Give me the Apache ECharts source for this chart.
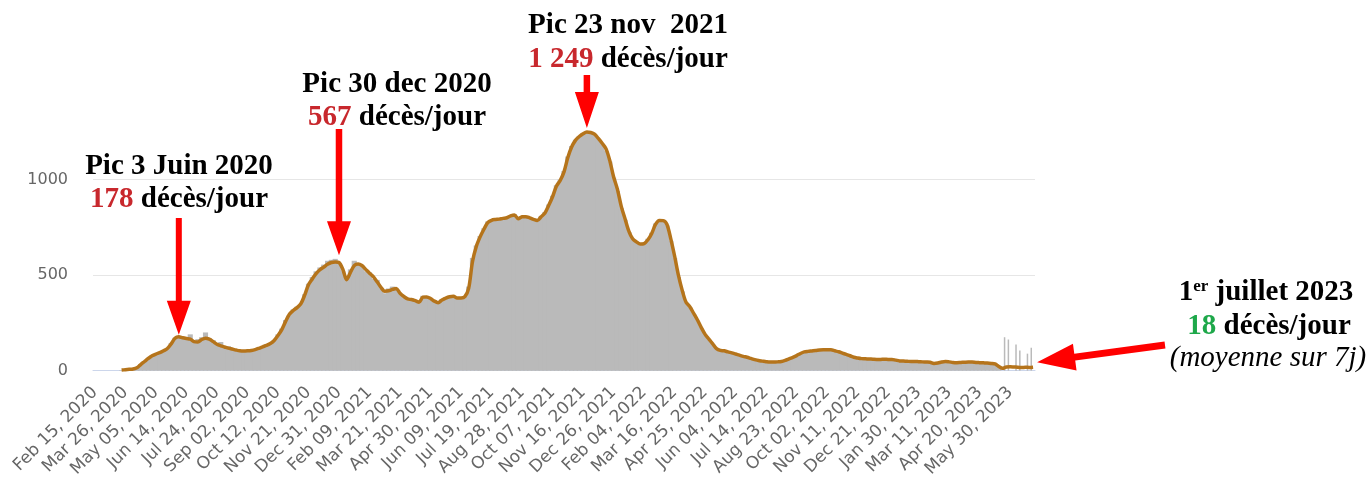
<!DOCTYPE html>
<html><head><meta charset="utf-8">
<script src="https://cdn.jsdelivr.net/npm/echarts@6/dist/echarts.min.js"></script>
<style>html,body{margin:0;padding:0;background:#fff}#c{width:1370px;height:480px}</style>
</head><body><div id="c"></div>
<script>
// ---- data (one value every 5 days from Feb 15, 2020) ----
const startDate = [2020, 1, 15];
const stepDays = 5;
const monthNames = ['Jan','Feb','Mar','Apr','May','Jun','Jul','Aug','Sep','Oct','Nov','Dec'];

// 7-day average (line)
const avg7 = [
 null,null,null,null,null,null,null,3,5,7,
 9,15,32,48,64,78,87,94,104,116,
 140,170,178,172,168,165,152,150,163,170,
 165,152,138,130,124,118,113,108,104,103,
 104,106,110,117,125,132,142,158,184,215,
 258,295,315,330,350,395,450,480,508,528,
 542,557,566,569,566,531,476,514,550,558,
 550,530,510,492,465,436,416,418,425,430,
 405,388,375,372,366,358,385,386,378,364,
 356,370,380,387,390,380,380,387,430,570,
 650,700,740,775,787,791,793,797,800,810,
 815,795,805,806,800,792,786,805,825,865,
 910,965,995,1040,1115,1170,1205,1225,1240,1249,
 1246,1238,1215,1190,1162,1100,1015,950,861,795,
 730,690,674,663,665,685,718,765,786,785,
 765,690,600,500,420,358,335,300,265,225,
 190,165,140,115,106,104,98,93,87,81,
 75,70,64,58,53,50,47,45,45,46,
 48,54,62,70,79,90,98,101,103,105,
 108,109,109,109,104,99,92,85,78,70,
 66,63,62,61,60,59,59,60,59,59,
 55,51,50,49,48,48,47,46,45,44,
 38,40,45,48,46,43,42,43,44,45,
 45,43,42,41,40,38,35,22,12,19,
 20,19,18,16,18,17,18
];

// daily deaths (grey bars)
const daily = [
 null,null,null,null,null,null,null,2,5,8,
 10,16,35,50,62,80,85,96,102,118,
 145,172,180,176,172,190,150,165,175,200,
 170,160,140,150,120,128,110,112,100,108,
 102,112,108,122,120,138,140,160,190,220,
 265,290,320,335,345,400,455,490,520,540,
 555,575,580,585,560,520,480,530,575,560,
 545,520,515,480,475,430,405,430,440,425,
 400,380,370,378,360,352,392,380,372,370,
 350,375,385,390,385,378,382,390,440,590,
 655,705,745,780,790,788,798,792,802,812,
 818,790,808,800,803,788,790,808,830,870,
 915,970,1000,1045,1120,1175,1208,1228,1242,1252,
 1244,1235,1210,1185,1150,1095,1010,940,850,790,
 725,685,670,660,670,690,722,770,790,780,
 760,680,590,490,415,355,330,295,262,220,
 188,162,138,114,105,102,97,92,86,80,
 74,69,63,57,52,49,46,44,44,45,
 47,53,61,69,78,89,97,100,102,104,
 107,108,108,108,103,98,91,84,77,69,
 65,62,61,60,59,58,58,59,58,58,
 54,50,49,48,47,47,46,45,44,43,
 37,39,44,47,45,42,41,42,43,44,
 44,42,41,40,39,37,34,20,0,0,
 0,0,0,0,0,0,0
];

// weekly reporting spikes at the end (category index, value)
const spikeIndex = [239,240,242,243,245,246];
const spikeValue = [175,163,137,106,89,120];

const yTicks = [0, 500, 1000];

// peaks annotated
const peakIndex = [22, 64, 129, 246];
const peakValue = [178, 567, 1249, 18];

// ---- build categories ----
const categories = [];
for (let i = 0; i < avg7.length; i++) {
  const d = new Date(Date.UTC(startDate[0], startDate[1], startDate[2] + i * stepDays));
  const dd = String(d.getUTCDate()).padStart(2, '0');
  categories.push(monthNames[d.getUTCMonth()] + ' ' + dd + ', ' + d.getUTCFullYear());
}
const spikes = categories.map(() => null);
spikeIndex.forEach((ix, k) => { spikes[ix] = spikeValue[k]; });

const chart = echarts.init(document.getElementById('c'), null, {renderer: 'canvas'});
const GREY = '#bababa';
chart.setOption({
  animation: false,
  backgroundColor: '#ffffff',
  grid: {left: 93, right: 335, top: 84, bottom: 108, containLabel: false},
  xAxis: {
    type: 'category', data: categories, boundaryGap: true,
    axisLine: {lineStyle: {color: '#ccd6eb', width: 1}},
    axisTick: {show: false},
    axisLabel: {interval: 7, rotate: 45, margin: 19, color: '#666666',
      fontFamily: 'DejaVu Sans', fontSize: 17}
  },
  yAxis: {
    type: 'value', min: 0, max: 1500, interval: 500,
    axisLine: {show: false}, axisTick: {show: false},
    axisLabel: {color: '#666666', fontFamily: 'DejaVu Sans', fontSize: 16, margin: 25,
      showMaxLabel: false,
      formatter: v => (yTicks.indexOf(v) >= 0 ? String(v) : '')},
    splitLine: {lineStyle: {color: ['#e6e6e6', '#e6e6e6', '#e6e6e6', 'rgba(0,0,0,0)'], width: 1}}
  },
  series: [
    {name: 'spikes', type: 'bar', data: spikes, barWidth: 1.5, barGap: '-100%',
      itemStyle: {color: GREY}, silent: true},
    {name: 'daily', type: 'bar', data: daily, barWidth: '135%', barGap: '-100%',
      itemStyle: {color: GREY}, silent: true},
    {name: 'avg7', type: 'line', data: avg7, showSymbol: false, smooth: 0.3,
      lineStyle: {color: '#b5741b', width: 3.5}, z: 5, silent: true}
  ]
});

// ---- annotations ----
const SERIF = 'Liberation Serif';
const RED = '#c8282d', GREEN = '#1ea84a', ARROW = '#ff0000';

function arrowPoly(sx, sy, tx, ty, shaft, headW, headL) {
  const dx = tx - sx, dy = ty - sy, L = Math.hypot(dx, dy);
  const ux = dx / L, uy = dy / L, px = -uy, py = ux;
  const bx = tx - ux * headL, by = ty - uy * headL;
  const s = shaft / 2, h = headW / 2;
  return [
    [sx + px * s, sy + py * s], [bx + px * s, by + py * s], [bx + px * h, by + py * h],
    [tx, ty],
    [bx - px * h, by - py * h], [bx - px * s, by - py * s], [sx - px * s, sy - py * s]
  ];
}
function tip(k) {
  return chart.convertToPixel({xAxisIndex: 0, yAxisIndex: 0}, [peakIndex[k], peakValue[k]]);
}
const t1 = tip(0), t2 = tip(1), t3 = tip(2), t4 = tip(3);

const boldRich = {
  k: {fontFamily: SERIF, fontWeight: 'bold', fontSize: 29, fill: '#000'},
  r: {fontFamily: SERIF, fontWeight: 'bold', fontSize: 29, fill: RED},
  g: {fontFamily: SERIF, fontWeight: 'bold', fontSize: 29, fill: GREEN},
  sup: {fontFamily: SERIF, fontWeight: 'bold', fontSize: 17, fill: '#000', verticalAlign: 'top'}
};
function txt(x, y, text, extra) {
  return Object.assign({type: 'text', x: x, y: y, z: 100, silent: true,
    style: Object.assign({text: text, rich: boldRich, align: 'center', verticalAlign: 'middle',
      fontFamily: SERIF, fontWeight: 'bold', fontSize: 29, fill: '#000'}, extra || {})});
}
function arrow(pts) {
  return {type: 'polygon', z: 99, silent: true, shape: {points: pts}, style: {fill: ARROW}};
}

chart.setOption({
  graphic: [
    txt(179, 167, '{k|Pic 3 Juin 2020}'),
    txt(179, 200, '{r|178} {k|décès/jour}'),
    arrow(arrowPoly(t1[0], 218, t1[0], t1[1] - 2, 6, 24, 34)),

    txt(397, 85, '{k|Pic 30 dec 2020}'),
    txt(397, 118, '{r|567} {k|décès/jour}'),
    arrow(arrowPoly(t2[0], 129, t2[0], t2[1] - 7, 6.5, 24, 34)),

    txt(628, 26, '{k|Pic 23 nov  2021}'),
    txt(628, 60, '{r|1 249} {k|décès/jour}'),
    arrow(arrowPoly(t3[0], 75, t3[0], t3[1] - 4, 6.5, 24, 36)),

    txt(1266, 293, '{k|1}{sup|er}{k| juillet 2023}'),
    txt(1269, 327, '{g|18} {k|décès/jour}'),
    txt(1268, 358, '(moyenne sur 7j)', {rich: null, fontWeight: 'normal', fontStyle: 'italic'}),
    arrow(arrowPoly(1165, 345, t4[0] + 4, t4[1] - 5, 7, 27, 38))
  ]
});
</script></body></html>
